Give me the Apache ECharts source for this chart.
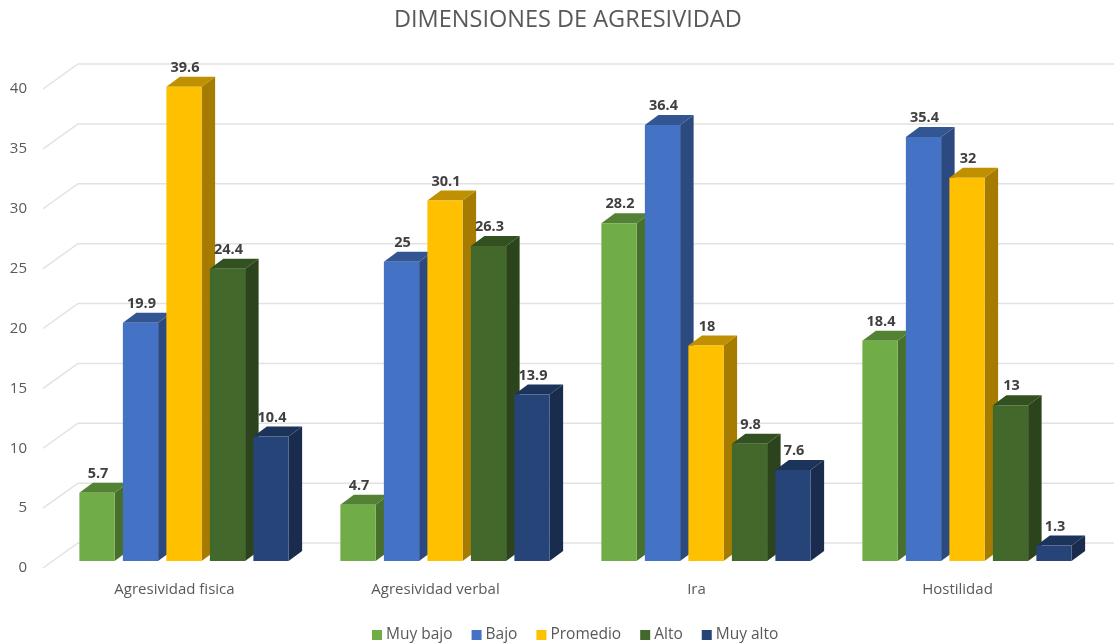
<!DOCTYPE html>
<html>
<head>
<meta charset="utf-8">
<style>
  html, body { margin: 0; padding: 0; background: #fff; }
  #chart { width: 1114px; height: 644px; }
</style>
<script src="https://cdn.jsdelivr.net/npm/echarts@6/dist/echarts.min.js"></script>
</head>
<body>
<div id="chart"></div>
<script>
// datos
const categories = ['Agresividad fisica', 'Agresividad verbal', 'Ira', 'Hostilidad']
const seriesNames = ['Muy bajo', 'Bajo', 'Promedio', 'Alto', 'Muy alto']
const muyBajo = [5.7, 4.7, 28.2, 18.4]
const bajo = [19.9, 25, 36.4, 35.4]
const promedio = [39.6, 30.1, 18, 32]
const alto = [24.4, 26.3, 9.8, 13]
const muyAlto = [10.4, 13.9, 7.6, 1.3]
const yTicks = [0, 5, 10, 15, 20, 25, 30, 35, 40]

// colores: cara frontal, superior y lateral
const faces = [
  ['#70AD47', '#548235', '#47702D'],
  ['#4472C4', '#335592', '#2C4A80'],
  ['#FFC000', '#BF9000', '#A67C00'],
  ['#43682B', '#325020', '#2C441C'],
  ['#264478', '#1C335A', '#192C4E']
]
const textFont = '"Open Sans", sans-serif'
const DEPTH_X = 13.5
const DEPTH_Y = 10
const WALL_X = 35
const WALL_Y = 25

const chart = echarts.init(document.getElementById('chart'))

// lineas de la pared y del suelo
const renderWall = (params, api) => {
  const y = api.coord([0, api.value(0)])[1]
  const x0 = params.coordSys.x - 1
  return {
    type: 'polyline',
    silent: true,
    shape: { points: [[x0, y], [x0 + WALL_X, y - WALL_Y], [api.getWidth(), y - WALL_Y]] },
    style: { fill: null, stroke: '#E2E2E2', lineWidth: 1.5 }
  }
}

// barra 3D: tres caras y la etiqueta
const renderBar = (idx) => (params, api) => {
  const band = api.size([1, 0])[0]
  const w = band * 0.135
  const pos = api.coord([api.value(0), api.value(1)])
  const base = api.coord([api.value(0), 0])
  const x = pos[0] + 9.5 + (idx - 2) * band / 6 - w / 2
  const y0 = base[1] - 7
  const y1 = pos[1] - 7
  const c = faces[idx]
  return {
    type: 'group',
    children: [
      {
        type: 'polygon',
        shape: { points: [[x + w, y0], [x + w + DEPTH_X, y0 - DEPTH_Y], [x + w + DEPTH_X, y1 - DEPTH_Y], [x + w, y1]] },
        style: { fill: c[2] }
      },
      {
        type: 'polygon',
        shape: { points: [[x, y1], [x + DEPTH_X, y1 - DEPTH_Y], [x + w + DEPTH_X, y1 - DEPTH_Y], [x + w, y1]] },
        style: { fill: c[1] }
      },
      {
        type: 'rect',
        shape: { x: x, y: y1, width: w, height: y0 - y1 },
        style: { fill: c[0] }
      },
      {
        type: 'text',
        x: x + w / 2 + 1,
        y: y1 - 19,
        style: {
          text: String(api.value(1)),
          fill: '#404040',
          font: 'bold 14.5px ' + textFont,
          align: 'center',
          verticalAlign: 'middle'
        }
      }
    ]
  }
}

const barData = [muyBajo, bajo, promedio, alto, muyAlto]

chart.setOption({
  animation: false,
  backgroundColor: '#fff',
  title: {
    text: 'DIMENSIONES DE AGRESIVIDAD',
    left: 389,
    top: 3,
    textStyle: { color: '#595959', fontFamily: textFont, fontSize: 23.5, fontWeight: 'normal' }
  },
  legend: {
    data: seriesNames,
    left: 367,
    top: 622,
    icon: 'rect',
    itemWidth: 10,
    itemHeight: 10,
    itemGap: 19,
    textStyle: { color: '#595959', fontFamily: textFont, fontSize: 15.5, padding: [0, 0, 0, -1] }
  },
  grid: { left: 44, top: 89, width: 1044, height: 479 },
  xAxis: {
    type: 'category',
    data: categories,
    axisLine: { show: false },
    axisTick: { show: false },
    axisLabel: { color: '#595959', fontFamily: textFont, fontSize: 15, margin: 14 }
  },
  yAxis: {
    type: 'value',
    min: 0,
    max: 40,
    interval: 5,
    axisLine: { show: false },
    axisTick: { show: false },
    splitLine: { show: false },
    axisLabel: { color: '#595959', fontFamily: textFont, fontSize: 15, margin: 17 }
  },
  series: [
    {
      type: 'custom',
      name: 'pared',
      silent: true,
      data: yTicks.map(v => [v]),
      encode: { y: 0 },
      renderItem: renderWall,
      z: 1
    },
    ...seriesNames.map((name, idx) => ({
      type: 'custom',
      name,
      itemStyle: { color: faces[idx][0] },
      data: barData[idx].map((v, i) => [i, v]),
      encode: { x: 0, y: 1 },
      renderItem: renderBar(idx),
      z: 2 + idx
    }))
  ]
})

window.addEventListener('resize', () => chart.resize())
</script>
</body>
</html>
